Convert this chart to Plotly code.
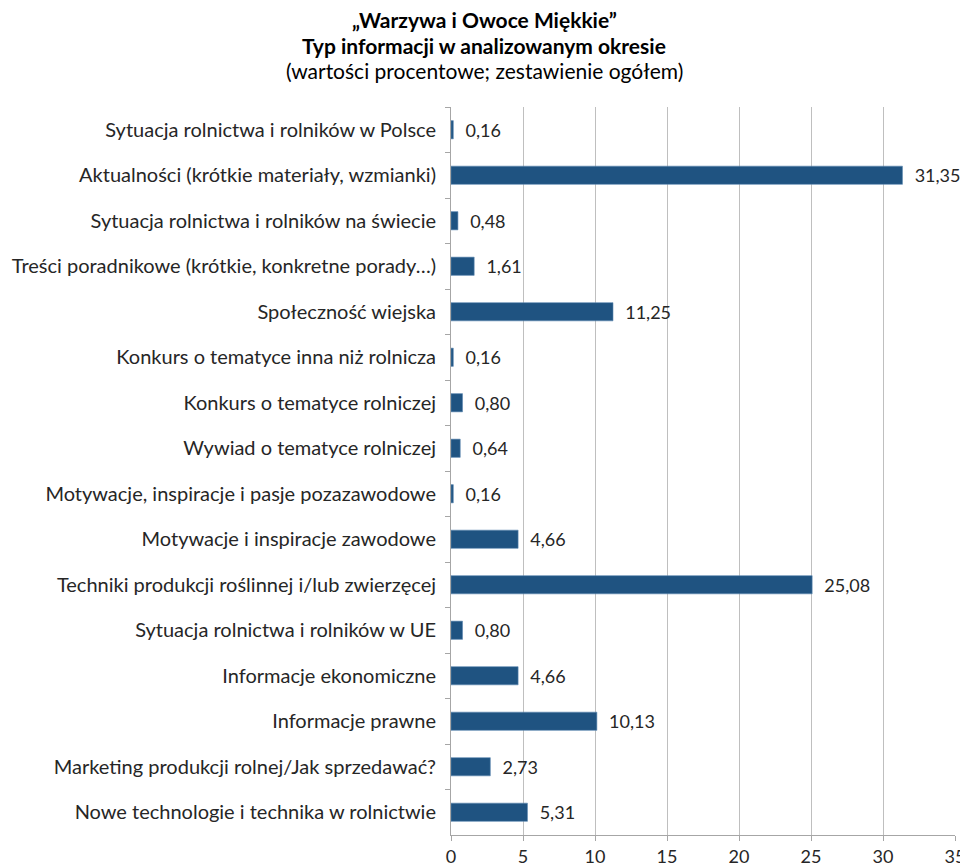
import plotly.graph_objects as go

categories = [
    "Sytuacja rolnictwa i rolników w Polsce",
    "Aktualności (krótkie materiały, wzmianki)",
    "Sytuacja rolnictwa i rolników na świecie",
    "Treści poradnikowe (krótkie, konkretne porady…)",
    "Społeczność wiejska",
    "Konkurs o tematyce inna niż rolnicza",
    "Konkurs o tematyce rolniczej",
    "Wywiad o tematyce rolniczej",
    "Motywacje, inspiracje i pasje pozazawodowe",
    "Motywacje i inspiracje zawodowe",
    "Techniki produkcji roślinnej i/lub zwierzęcej",
    "Sytuacja rolnictwa i rolników w UE",
    "Informacje ekonomiczne",
    "Informacje prawne",
    "Marketing produkcji rolnej/Jak sprzedawać?",
    "Nowe technologie i technika w rolnictwie",
]
values = [0.16, 31.35, 0.48, 1.61, 11.25, 0.16, 0.80, 0.64, 0.16, 4.66,
          25.08, 0.80, 4.66, 10.13, 2.73, 5.31]
x_ticks = [0, 5, 10, 15, 20, 25, 30, 35]

title_lines = [
    ("<b>„Warzywa i Owoce Miękkie”</b>", 20),
    ("<b>Typ informacji w analizowanym okresie</b>", 45),
    ("(wartości procentowe; zestawienie ogółem)", 71),
]

FONT = "Lato"
TXT = "#262626"
OFF = 8  # page body margin
W, H = 968 - OFF, 867 - OFF
ML, MR, MT, MB = 451 - OFF, 13, 107 - OFF, 32

labels = ["\u00a0\u00a0" + f"{v:.2f}".replace(".", ",") for v in values]

fig = go.Figure(go.Bar(
    x=values, y=categories, orientation="h",
    marker=dict(color="#1F5381", line=dict(color="#5B86B0", width=0.6)),
    text=labels, textposition="outside", cliponaxis=False,
    constraintext="none",
    textfont=dict(family=FONT, size=18, color=TXT),
))

annotations = []
ph = H - MT - MB
for txt, ypx in title_lines:
    annotations.append(dict(
        text=txt, xref="paper", yref="paper",
        x=(968 / 2 - OFF - ML) / (W - ML - MR), y=(H - MB - (ypx - OFF)) / ph,
        xanchor="center", yanchor="middle", showarrow=False,
        font=dict(family=FONT, size=21, color="#000000"),
    ))

fig.update_layout(
    width=W, height=H,
    margin=dict(l=ML, r=MR, t=MT, b=MB, pad=0, autoexpand=False),
    paper_bgcolor="white", plot_bgcolor="white",
    bargap=0.6, showlegend=False,
    font=dict(family=FONT, size=20, color=TXT),
    annotations=annotations,
)
fig.update_xaxes(
    range=[0, 35], tickvals=x_ticks, ticktext=[str(t) for t in x_ticks],
    showgrid=True, gridcolor="#BFBFBF", gridwidth=1,
    showline=True, linecolor="#A6A6A6", linewidth=1,
    ticks="outside", ticklen=5, tickcolor="#A6A6A6",
    tickfont=dict(family=FONT, size=18, color=TXT),
    ticklabelstandoff=0,
    zeroline=False, automargin=False,
)
fig.update_yaxes(
    autorange="reversed", type="category",
    showline=True, linecolor="#A6A6A6", linewidth=1,
    ticks="outside", ticklen=5, tickcolor="#A6A6A6", tickson="boundaries",
    tickfont=dict(family=FONT, size=20, color=TXT),
    ticklabelstandoff=10,
    showgrid=False, automargin=False,
)
fig.write_html("out.html")
